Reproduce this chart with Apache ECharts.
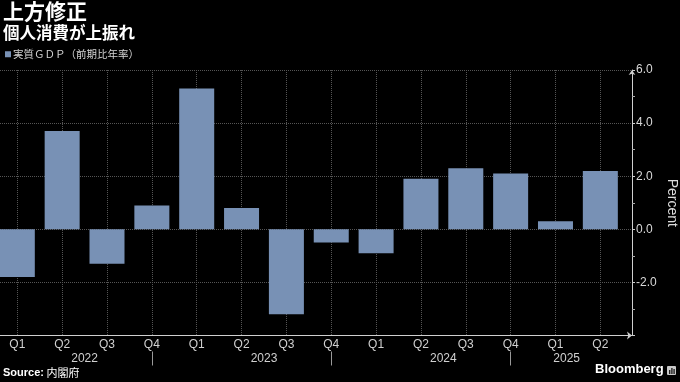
<!DOCTYPE html>
<html><head><meta charset="utf-8">
<script src="https://cdn.jsdelivr.net/npm/echarts@6/dist/echarts.min.js"></script>
<style>html,body{margin:0;padding:0;background:#000;}#c{width:680px;height:382px;}</style>
</head><body><div id="c"></div>
<script>
// ---- data ----
const quarters = ['Q1','Q2','Q3','Q4','Q1','Q2','Q3','Q4','Q1','Q2','Q3','Q4','Q1','Q2'];
const years = ['2022','2023','2024','2025'];
const yearLabelPos = [1.5, 5.5, 9.5, 12.25];
const yearSeparators = [3, 7, 11];
const gdpGrowth = [-1.8, 3.7, -1.3, 0.9, 5.3, 0.8, -3.2, -0.5, -0.9, 1.9, 2.3, 2.1, 0.3, 2.2];
const seriesName = '実質ＧＤＰ（前期比年率）';
const yMin = -4, yMax = 6, yStep = 2;

// ---- chart ----
const FONT = "'Liberation Sans', 'Noto Sans CJK JP', sans-serif";
const JP = "'Noto Sans CJK JP', 'Noto Sans', sans-serif";
const idx = quarters.map((_, i) => i);
const xMin = -0.386, xMax = 13.706;
const chart = echarts.init(document.getElementById('c'), null, {renderer: 'canvas'});
const option = {
  backgroundColor: '#000',
  animation: false,
  title: [
    {text: '上方修正', subtext: '個人消費が上振れ', left: 3, top: 1, itemGap: 2, padding: 0,
     textStyle: {color: '#fff', fontSize: 21, fontWeight: 'bold', fontFamily: JP},
     subtextStyle: {color: '#fff', fontSize: 16.5, fontWeight: 'bold', fontFamily: JP}},
    {text: '{b|Source:} 内閣府', left: 3, top: 367, padding: 0,
     textStyle: {color: '#fff', fontSize: 11, fontWeight: 'normal', fontFamily: JP,
       rich: {b: {fontWeight: 'bold', fontSize: 11, color: '#fff', fontFamily: FONT}}}}
  ],
  legend: {data: [seriesName], left: 5, top: 49, padding: 0, icon: 'rect', itemWidth: 6, itemHeight: 6,
    textStyle: {color: '#d4d4d4', fontSize: 10.5, fontFamily: JP, padding: [0, 0, 0, -3]}},
  grid: {left: 0, right: 48, top: 70, bottom: 46.5, containLabel: false, outerBoundsMode: 'none'},
  xAxis: [
    {type: 'value', position: 'bottom', min: xMin, max: xMax,
     axisLine: {show: true, onZero: false, lineStyle: {color: '#cfcfcf', width: 1}, symbol: ['none', 'arrow'], symbolSize: [6, 5]},
     axisTick: {show: false, customValues: idx},
     axisLabel: {customValues: idx, formatter: v => quarters[Math.round(v)], color: '#d0d0d0', fontSize: 12,
       margin: 3, fontFamily: FONT, hideOverlap: false},
     splitLine: {show: true, lineStyle: {color: '#555', type: 'dotted', width: 1}}},
    {type: 'value', position: 'bottom', offset: 16, min: xMin, max: xMax,
     axisLine: {show: false, onZero: false},
     axisTick: {show: true, customValues: yearSeparators, length: 14, lineStyle: {color: '#999'}},
     axisLabel: {customValues: yearLabelPos, formatter: v => years[yearLabelPos.indexOf(v)], color: '#d0d0d0',
       fontSize: 12, margin: 1, fontFamily: FONT, hideOverlap: false},
     splitLine: {show: false}}
  ],
  yAxis: {type: 'value', position: 'right', min: yMin, max: yMax, interval: yStep,
    name: 'Percent', nameLocation: 'middle', nameRotate: -90, nameGap: 33, nameMoveOverlap: false,
    nameTextStyle: {color: '#dcdcdc', fontSize: 14, fontFamily: FONT},
    axisLine: {show: true, onZero: false, lineStyle: {color: '#cfcfcf'}, symbol: ['none', 'arrow'], symbolSize: [5, 5]},
    axisTick: {show: true, length: 3, lineStyle: {color: '#cfcfcf'}},
    minorTick: {show: true, splitNumber: 2, length: 3, lineStyle: {color: '#aaa'}},
    minorSplitLine: {show: false},
    axisLabel: {color: '#d8d8d8', fontSize: 12, margin: 4, fontFamily: FONT, formatter: v => v.toFixed(1),
      showMinLabel: false, hideOverlap: false},
    splitLine: {show: true, lineStyle: {color: '#555', type: 'dotted', width: 1}}},
  series: [{name: seriesName, type: 'bar', xAxisIndex: 0, yAxisIndex: 0,
    data: gdpGrowth.map((v, i) => [i, v]), barWidth: 35, itemStyle: {color: '#7891b5'}}],
  graphic: [
    {type: 'text', left: 595, top: 363, style: {text: 'Bloomberg', fill: '#fff', font: 'bold 13px "Liberation Sans", sans-serif'}},
    {type: 'group', left: 667, top: 366, children: [
      {type: 'rect', shape: {x: 0, y: 0, width: 9, height: 9, r: 1}, style: {fill: '#c8c8c8'}},
      {type: 'rect', shape: {x: 2, y: 4, width: 1.4, height: 4}, style: {fill: '#222'}},
      {type: 'rect', shape: {x: 4.2, y: 2, width: 1.4, height: 6}, style: {fill: '#222'}},
      {type: 'rect', shape: {x: 6.4, y: 3, width: 1.4, height: 5}, style: {fill: '#222'}}
    ]}
  ]
};
chart.setOption(option);
</script></body></html>
